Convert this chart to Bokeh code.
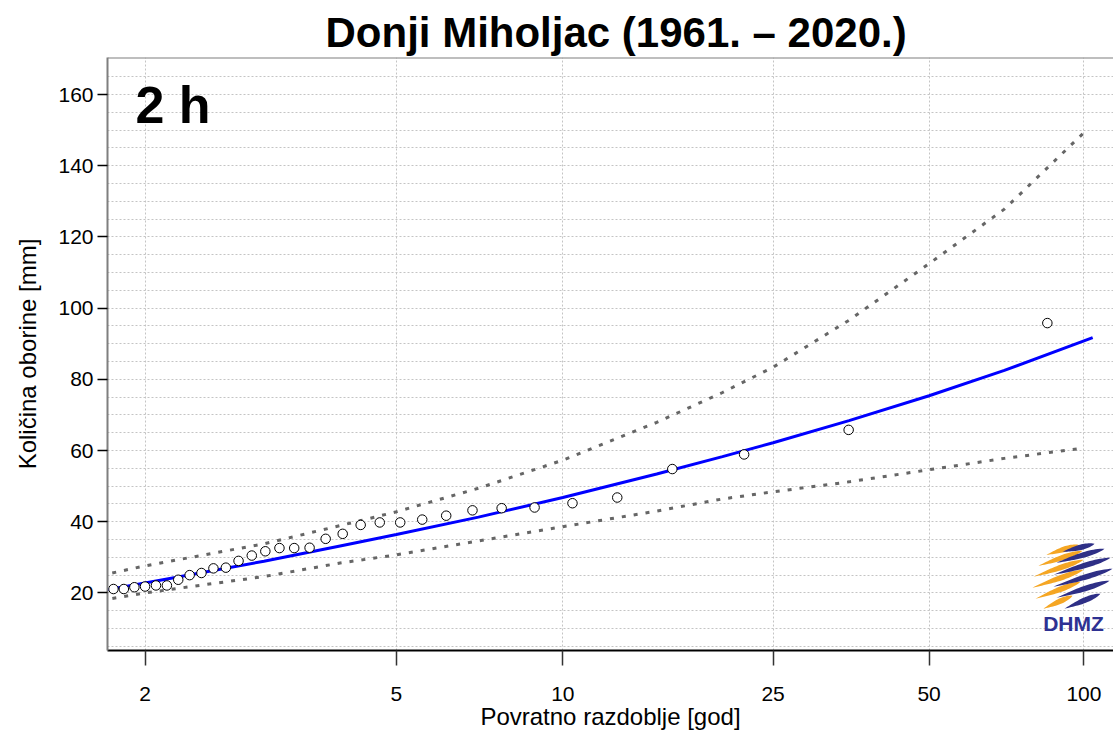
import numpy as np
from bokeh.plotting import figure
from bokeh.models import Range1d, FixedTicker, Label, Span, ColumnDataSource, Title, CustomJSTickFormatter
from bokeh.embed import file_html
from bokeh.resources import INLINE

# ---------------- data ----------------
station_title = "Donji Miholjac (1961. – 2020.)"
duration_label = "2 h"
x_label = "Povratno razdoblje [god]"
y_label = "Količina oborine [mm]"
logo_text = "DHMZ"

tick_periods = [2, 5, 10, 25, 50, 100]
y_ticks = [20, 40, 60, 80, 100, 120, 140, 160]
y_grid = [5, 10, 15, 20, 25, 30, 35, 40, 45, 50, 55, 60, 65, 70, 75, 80, 85,
          90, 95, 100, 105, 110, 115, 120, 125, 130, 135, 140, 145, 150, 155, 160, 165]

# observed annual maxima (return period [years], amount [mm])
obs_period = [84.86, 34.94, 22.0, 16.054, 12.638, 10.421, 8.866, 7.714, 6.828, 6.124,
              5.551, 5.077, 4.677, 4.336, 4.041, 3.783, 3.557, 3.356, 3.176, 3.015,
              2.870, 2.737, 2.617, 2.506, 2.405, 2.311, 2.225, 2.144, 2.070, 2.000,
              1.935, 1.874, 1.817]
obs_amount = [95.8, 65.8, 58.9, 54.8, 46.8, 45.2, 44.0, 43.8, 43.2, 41.7,
              40.6, 39.8, 39.8, 39.1, 36.6, 35.2, 32.7, 32.6, 32.6, 31.7,
              30.5, 29.0, 27.1, 26.9, 25.6, 25.0, 23.7, 22.1, 22.1, 21.8,
              21.6, 21.1, 21.1]

# fitted distribution
fit_period = [1.75, 2, 3, 4, 5, 7, 10, 15, 20, 25, 35, 50, 70, 100, 104]
fit_amount = [20.6, 22.8, 28.9, 33.2, 36.4, 41.3, 46.8, 53.4, 58.3, 62.2, 68.4, 75.4, 82.5, 90.8, 91.7]

# confidence band
ci_period = [1.75, 2, 3, 4, 5, 7, 10, 15, 20, 25, 35, 50, 70, 100]
ci_upper = [24.9, 27.6, 33.8, 38.9, 42.8, 49.4, 57.3, 67.9, 76.3, 83.4, 96.6, 112.5, 127.8, 149.3]
ci_lower = [17.9, 20.0, 24.6, 28.4, 30.7, 34.6, 38.6, 43.0, 46.4, 48.4, 51.2, 54.6, 57.8, 60.7]


def gumbel(T):
    T = np.asarray(T, dtype=float)
    return -np.log(-np.log(1.0 - 1.0 / T))


# ---------------- layout ----------------
W, H = 1113, 732
ML, MT, MB = 107, 57, 80
frame_w = W - ML
frame_h = H - MT - MB

g2, g100 = float(gumbel(2)), float(gumbel(100))
x_lo = g2 - 0.04 * (g100 - g2)
x_hi_full = g100 + 0.04 * (g100 - g2)
x_hi = x_lo + (x_hi_full - x_lo) * frame_w / 1014.0
y_lo, y_hi = 3.83, 170.4

FONT = "Liberation Sans"

p = figure(width=W, height=H, output_backend="svg", toolbar_location=None,
           x_range=Range1d(x_lo, x_hi), y_range=Range1d(y_lo, y_hi),
           min_border_left=ML, min_border_right=0, min_border_top=MT, min_border_bottom=MB,
           background_fill_color="white", border_fill_color="white")
p.outline_line_color = None

p.title = Title(text=station_title, align="left", offset=218, standoff=4,
                text_font=FONT, text_font_size="42px", text_font_style="bold",
                text_color="black")

# grid
p.xgrid.ticker = FixedTicker(ticks=[float(v) for v in gumbel(tick_periods)])
p.ygrid.ticker = FixedTicker(ticks=y_grid)
for g in (p.xgrid, p.ygrid):
    g.grid_line_color = "#c4c4c4"
    g.grid_line_dash = "2 2"
    g.grid_line_width = 1

# x axis
xa = p.xaxis[0]
xa.ticker = FixedTicker(ticks=[float(v) for v in gumbel(tick_periods)])
xa.formatter = CustomJSTickFormatter(
    code="return String(Math.round(1/(1-Math.exp(-Math.exp(-tick)))));")
xa.axis_label = x_label
xa.axis_line_color = "black"
xa.axis_line_width = 2
xa.major_tick_line_color = "#333333"
xa.major_tick_line_width = 1.5
xa.major_tick_out = 15
xa.major_tick_in = 0
xa.minor_tick_line_color = None
xa.major_label_standoff = 21
xa.major_label_text_font = FONT
xa.major_label_text_font_size = "21px"
xa.major_label_text_color = "black"
xa.axis_label_text_font = FONT
xa.axis_label_text_font_size = "24px"
xa.axis_label_text_font_style = "normal"
xa.axis_label_text_color = "black"
xa.axis_label_standoff = -1

# y axis
ya = p.yaxis[0]
ya.ticker = FixedTicker(ticks=y_ticks)
ya.axis_label = y_label
ya.axis_line_color = "#7f7f7f"
ya.axis_line_width = 2
ya.major_tick_line_color = "black"
ya.major_tick_line_width = 1.5
ya.major_tick_out = 10
ya.major_tick_in = 0
ya.minor_tick_line_color = None
ya.major_label_standoff = 4
ya.major_label_orientation = "horizontal"
ya.major_label_text_font = FONT
ya.major_label_text_font_size = "21px"
ya.major_label_text_color = "black"
ya.axis_label_text_font = FONT
ya.axis_label_text_font_size = "24px"
ya.axis_label_text_font_style = "normal"
ya.axis_label_text_color = "black"
ya.axis_label_standoff = 14

# top border
p.add_layout(Span(location=y_hi, dimension="width", line_color="#7f7f7f", line_width=2))

# ---------------- logo (decoration) ----------------
frame_left_page, frame_top_page = ML, MT
ppx = frame_w / (x_hi - x_lo)
ppy = frame_h / (y_hi - y_lo)


def to_data(px, py):
    return x_lo + (px - frame_left_page) / ppx, y_hi - (py - frame_top_page) / ppy


ORANGE, NAVY = "#f5a623", "#2e2f86"
strokes = [
    (1046, 556, 1078, 546, ORANGE), (1038, 567, 1082, 552, ORANGE),
    (1033, 578, 1083, 561, ORANGE), (1032, 589, 1083, 571, ORANGE),
    (1035, 600, 1080, 583, ORANGE), (1043, 610, 1072, 597, ORANGE),
    (1062, 553, 1094, 545, NAVY), (1056, 564, 1104, 550, NAVY),
    (1053, 576, 1110, 559, NAVY), (1053, 588, 1112, 570, NAVY),
    (1056, 599, 1109, 582, NAVY), (1064, 610, 1100, 595, NAVY),
]
xs_l, ys_l, cs_l = [], [], []
t = np.linspace(0, 1, 24)
for x0, y0, x1, y1, c in strokes:
    dx, dy = x1 - x0, y1 - y0
    L = np.hypot(dx, dy)
    nx, ny = -dy / L, dx / L
    w = 3.8 * np.sin(np.pi * t) ** 0.8 * (0.4 + 0.6 * t)
    px = x0 + t * dx
    py = y0 + t * dy
    pxs = np.concatenate([px + nx * w, (px - nx * w)[::-1]])
    pys = np.concatenate([py + ny * w, (py - ny * w)[::-1]])
    dxs, dys = to_data(pxs, pys)
    xs_l.append(list(dxs))
    ys_l.append(list(dys))
    cs_l.append(c)
p.patches(xs=xs_l, ys=ys_l, fill_color=cs_l, line_color=None)
lx, ly = to_data(1073, 625)
p.add_layout(Label(x=lx, y=ly, text=logo_text, text_font=FONT, text_font_size="21px",
                   text_font_style="bold", text_color="#2e3192",
                   text_align="center", text_baseline="middle"))

# ---------------- data marks ----------------
ci_src = ColumnDataSource(dict(x=gumbel(ci_period), up=ci_upper, lo=ci_lower))
p.line("x", "up", source=ci_src, line_color="#666666", line_width=3, line_dash="4 8")
p.line("x", "lo", source=ci_src, line_color="#666666", line_width=3, line_dash="4 8")

fit_src = ColumnDataSource(dict(x=gumbel(fit_period), y=fit_amount))
p.line("x", "y", source=fit_src, line_color="#0000ff", line_width=3)

obs_src = ColumnDataSource(dict(x=gumbel(obs_period), y=obs_amount))
p.scatter("x", "y", source=obs_src, size=9.5, marker="circle",
          fill_color="white", line_color="black", line_width=1)

# duration label
dlx, dly = to_data(135, 105)
p.add_layout(Label(x=dlx, y=dly, text=duration_label, text_font=FONT, text_font_size="52px",
                   text_font_style="bold", text_color="black",
                   text_align="left", text_baseline="middle"))

open("out.html", "w").write(file_html(p, INLINE))
